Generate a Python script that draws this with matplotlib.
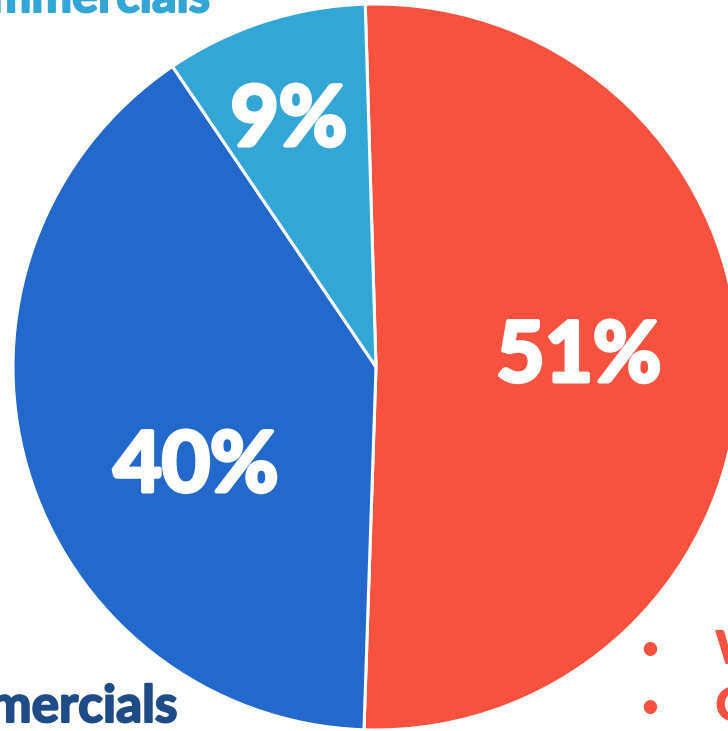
import matplotlib.pyplot as plt
import matplotlib.patheffects as pe

# pie shares (percent), clockwise from the top
labels = ['Website', 'Commercials', 'Non-commercials']
shares = [51, 40, 9]
colors = ['#F75240', '#2369CC', '#33A6D6']
pct_text = ['51%', '40%', '9%']

# where the percentage labels sit (data coords, pie radius = 1)
pct_pos = [(0.559, 0.025), (-0.496, -0.278), (-0.240, 0.675)]

plt.rcParams['font.family'] = ['Lato', 'DejaVu Sans']


def heavy(color, w=2.5):
    # fake an extra-heavy weight with an outline in the same colour
    return [pe.withStroke(linewidth=w, foreground=color)]


fig = plt.figure(figsize=(7.28, 7.31), dpi=100)
fig.patch.set_facecolor('white')

# the pie is cropped: it runs past the right edge of the picture
ax = fig.add_axes([13 / 728, 1 / 731, 726 / 728, 726 / 731])
ax.pie(shares, colors=colors, startangle=91.7, counterclock=False,
       radius=1.0, wedgeprops=dict(edgecolor='white', linewidth=2.2))
for txt, (x, y) in zip(pct_text, pct_pos):
    ax.text(x, y, txt, color='white', fontsize=60, fontweight='bold',
            ha='center', va='center', path_effects=heavy('white', 3))
ax.set_xlim(-1, 1)
ax.set_ylim(-1, 1)
ax.set_aspect('equal')
ax.axis('off')

# legend-ish labels, partly cut off by the image edge
fig.text(210 / 728, 1 - 12 / 731, 'Non-commercials', color='#33A6D6',
         fontsize=35, fontweight='bold', ha='right', va='baseline',
         path_effects=heavy('#33A6D6', 1.5))
fig.text(178 / 728, 1 - 722 / 731, 'Commercials', color='#1F4C86',
         fontsize=37, fontweight='bold', ha='right', va='baseline',
         path_effects=heavy('#1F4C86', 1.5))
for name, py in zip(labels[:1] + ['Other'], [650, 707]):
    fig.text(650 / 728, 1 - py / 731, '\u2022', color='#F75240',
             fontsize=26, ha='center', va='center')
    fig.text(716 / 728, 1 - py / 731, name, color='#F75240',
             fontsize=32, fontweight='bold', ha='left', va='center',
             path_effects=heavy('#F75240', 1.5))

fig.savefig('out.png', dpi=100)
